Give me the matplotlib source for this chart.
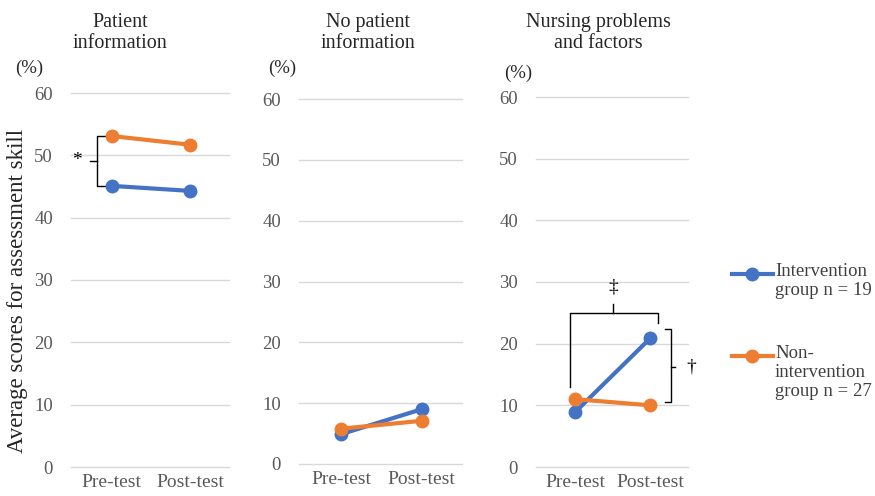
import matplotlib
matplotlib.use("Agg")
import matplotlib.pyplot as plt
from matplotlib.lines import Line2D

plt.rcParams['font.family'] = ['Liberation Serif', 'DejaVu Serif']

# data
phases = ["Pre-test", "Post-test"]
panel_titles = ["Patient\ninformation", "No patient\ninformation", "Nursing problems\nand factors"]
intervention = [[45.1, 44.3], [4.9, 9.0], [8.9, 20.9]]
non_intervention = [[53.1, 51.7], [5.8, 7.1], [11.0, 10.0]]
y_ticks = [0, 10, 20, 30, 40, 50, 60]
legend_labels = ["Intervention\ngroup n = 19", "Non-\nintervention\ngroup n = 27"]

blue = "#4472C4"
orange = "#ED7D31"
grey_txt = "#595959"

W, H = 875, 496
fig = plt.figure(figsize=(W / 100, H / 100), dpi=100)

# pixel boxes: (left, right, y of 0, y of 60)
boxes = [(71, 229, 467, 93), (299, 462, 464, 99), (536, 688, 467, 97)]
pct_pos = [(29, 68), (282, 68), (518, 73)]
title_x = [120, 368, 598]

axes = []
for i, (x0, x1, yb, yt) in enumerate(boxes):
    ax = fig.add_axes([x0 / W, (H - yb) / H, (x1 - x0) / W, (yb - yt) / H])
    ax.plot(range(2), intervention[i], color=blue, lw=3, marker='o', ms=9, zorder=3)
    ax.plot(range(2), non_intervention[i], color=orange, lw=3, marker='o', ms=9, zorder=4)
    ax.set_xlim(-0.52, 1.5)
    ax.set_ylim(0, 60)
    ax.set_yticks(y_ticks)
    ax.set_xticks(range(2))
    ax.set_xticklabels(phases, fontsize=14, color=grey_txt)
    ax.tick_params(axis='y', labelsize=13.5, labelcolor=grey_txt, length=0, pad=13)
    ax.tick_params(axis='x', length=0, pad=5)
    for s in ax.spines.values():
        s.set_visible(False)
    ax.grid(axis='y', color='#d9d9d9', lw=1)
    for gl in ax.get_ygridlines():
        gl.set_clip_on(False)
    ax.set_axisbelow(True)
    fig.text(title_x[i] / W, 1 - 33 / H, panel_titles[i], ha='center', va='center',
             fontsize=14.5, color='#262626', linespacing=1.2)
    fig.text(pct_pos[i][0] / W, 1 - pct_pos[i][1] / H, "(%)", ha='center', va='center',
             fontsize=13.5, color='#262626')
    axes.append(ax)

fig.text(18 / W, 1 - 291 / H, "Average scores for assessment skill", rotation=90,
         ha='center', va='center', fontsize=16.5, color='#262626')

# significance bracket, panel 1
ax = axes[0]
top, bot = non_intervention[0][0], intervention[0][0]
mid = (top + bot) / 2
ax.plot([-0.06, -0.19, -0.19, -0.06], [top, top, bot, bot], color='black', lw=1, clip_on=False)
ax.plot([-0.28, -0.19], [mid, mid], color='black', lw=1, clip_on=False)
ax.text(-0.44, mid, "*", ha='center', va='center', fontsize=14, color='black')

# brackets, panel 3
ax = axes[2]
ax.plot([-0.07, -0.07, 1.1, 1.1], [13.0, 25.0, 25.0, 23.3], color='black', lw=1, clip_on=False)
ax.plot([0.5, 0.5], [25.0, 26.4], color='black', lw=1, clip_on=False)
ax.text(0.5, 29.2, "\u2021", ha='center', va='center', fontsize=14, color='black')
ax.plot([1.2, 1.28, 1.28, 1.2], [22.4, 22.4, 10.5, 10.5], color='black', lw=1, clip_on=False)
ax.plot([1.28, 1.33], [16.2, 16.2], color='black', lw=1, clip_on=False)
ax.text(1.54, 16.2, "\u2020", ha='center', va='center', fontsize=14, color='black')

# legend drawn by hand (handle aligned with first text line)
leg_y = [274, 356]
for c, lab, y in zip([blue, orange], legend_labels, leg_y):
    fig.add_artist(Line2D([732 / W, 773 / W], [1 - y / H, 1 - y / H], color=c, lw=3,
                          transform=fig.transFigure))
    fig.add_artist(Line2D([752 / W], [1 - y / H], color=c, marker='o', ms=9,
                          transform=fig.transFigure))
    fig.text(775 / W, 1 - (y - 11) / H, lab, ha='left', va='top', fontsize=13.5,
             color='#404040', linespacing=1.15)

fig.savefig("out.png", dpi=100)
